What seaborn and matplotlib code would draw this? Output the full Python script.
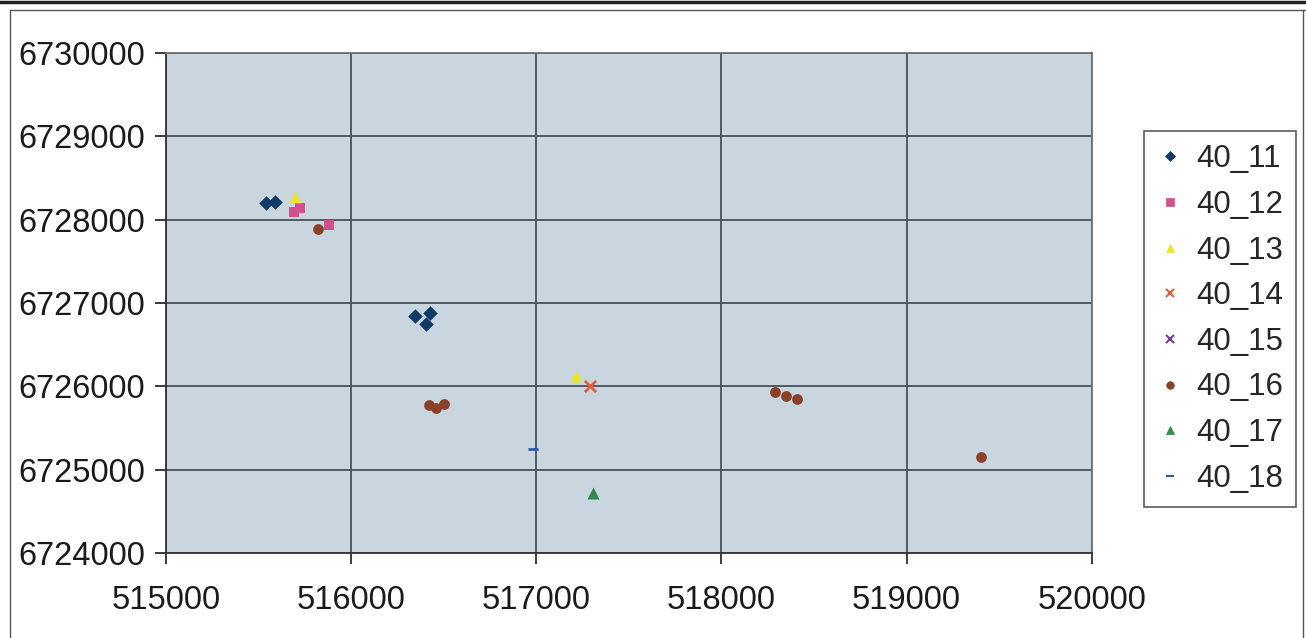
import matplotlib
matplotlib.use("Agg")
import matplotlib.pyplot as plt
import seaborn as sns
import pandas as pd
from matplotlib.lines import Line2D

sns.set_theme(style="white")
plt.rcParams['font.family'] = ['Liberation Sans', 'DejaVu Sans']

series = ["40_11", "40_12", "40_13", "40_14", "40_15", "40_16", "40_17", "40_18"]
x_40_11 = [515540, 515589, 516345, 516425, 516404]
y_40_11 = [6728200, 6728212, 6726844, 6726880, 6726748]
x_40_12 = [515691, 515724, 515880]
y_40_12 = [6728092, 6728140, 6727936]
x_40_13 = [515697, 517214]
y_40_13 = [6728272, 6726124]
x_40_14 = [517289]
y_40_14 = [6726004]
x_40_15 = []
y_40_15 = []
x_40_16 = [515821, 516420, 516458, 516501, 518288, 518348, 518407, 519401]
y_40_16 = [6727888, 6725776, 6725740, 6725788, 6725932, 6725884, 6725848, 6725152]
x_40_17 = [517306]
y_40_17 = [6724720]
x_40_18 = [516982]
y_40_18 = [6725248]

xs = [x_40_11, x_40_12, x_40_13, x_40_14, x_40_15, x_40_16, x_40_17, x_40_18]
ys = [y_40_11, y_40_12, y_40_13, y_40_14, y_40_15, y_40_16, y_40_17, y_40_18]

x_ticks = [515000, 516000, 517000, 518000, 519000, 520000]
y_ticks = [6724000, 6725000, 6726000, 6727000, 6728000, 6729000, 6730000]

colors = {"40_11": "#123a66", "40_12": "#d2508e", "40_13": "#ece62a", "40_14": "#e0603a",
          "40_15": "#7a3d8c", "40_16": "#8a4128", "40_17": "#2f8a4e", "40_18": "#2a5cb0"}
markers = {"40_11": "D", "40_12": "s", "40_13": "^", "40_14": "x", "40_15": "x",
           "40_16": "o", "40_17": "^", "40_18": "_"}
sizes = {"40_11": 55, "40_12": 60, "40_13": 70, "40_14": 65, "40_15": 65,
         "40_16": 60, "40_17": 75, "40_18": 60}

fig = plt.figure(figsize=(13.06, 6.38), dpi=100)
ax = fig.add_axes([0.127, 0.1332, 0.709, 0.784])
ax.set_facecolor("#c9d5df")

handles = []
for name, xv, yv in zip(series, xs, ys):
    if len(xv) > 0:
        df = pd.DataFrame({"x": xv, "y": yv})
        lw = 2.0 if markers[name] in ("x", "_") else 0
        sns.scatterplot(data=df, x="x", y="y", ax=ax, color=colors[name], marker=markers[name],
                        s=sizes[name], linewidth=lw, edgecolor=colors[name] if lw == 0 else None,
                        zorder=3, legend=False)
    handles.append(Line2D([], [], linestyle="none", marker=markers[name], color=colors[name],
                          markersize=5.5,
                          markeredgewidth=1.5 if markers[name] in ("x", "_") else 0.5,
                          label=name))

ax.set_xlim(515000, 520000)
ax.set_ylim(6724000, 6730000)
ax.set_xticks(x_ticks)
ax.set_yticks(y_ticks)
ax.set_xticklabels([str(v) for v in x_ticks])
ax.set_yticklabels([str(v) for v in y_ticks])
ax.grid(True, color="#46525a", linewidth=1.3)
ax.set_axisbelow(True)
ax.set_xlabel("")
ax.set_ylabel("")
ax.tick_params(axis="both", labelsize=23.5, colors="#1a1a1a", direction="out", length=8,
               width=1.2, left=True, bottom=True)
ax.tick_params(axis="y", pad=7)
ax.tick_params(axis="x", pad=15)
for side in ["left", "bottom"]:
    ax.spines[side].set_color("#333333")
    ax.spines[side].set_linewidth(1.3)
for side in ["top", "right"]:
    ax.spines[side].set_color("#6a7278")
    ax.spines[side].set_linewidth(1.3)

leg = fig.legend(handles=handles, loc="center left", bbox_to_anchor=(0.876, 0.5),
                 fontsize=22.5, frameon=True, fancybox=False, edgecolor="#333333",
                 labelspacing=0.5, handlelength=0.8, handletextpad=0.45,
                 borderpad=0.42, borderaxespad=0)
leg.get_frame().set_linewidth(1.2)

# outer frame lines
fig.add_artist(Line2D([0, 1], [0.997, 0.997], transform=fig.transFigure, color="#222222", linewidth=2.5))
fig.add_artist(Line2D([0.008, 1], [0.984, 0.984], transform=fig.transFigure, color="#555555", linewidth=1))
fig.add_artist(Line2D([0.008, 0.008], [0, 0.984], transform=fig.transFigure, color="#555555", linewidth=1))
fig.add_artist(Line2D([0.998, 0.998], [0, 0.984], transform=fig.transFigure, color="#555555", linewidth=1))

fig.savefig("out.png", dpi=100, facecolor="white")
